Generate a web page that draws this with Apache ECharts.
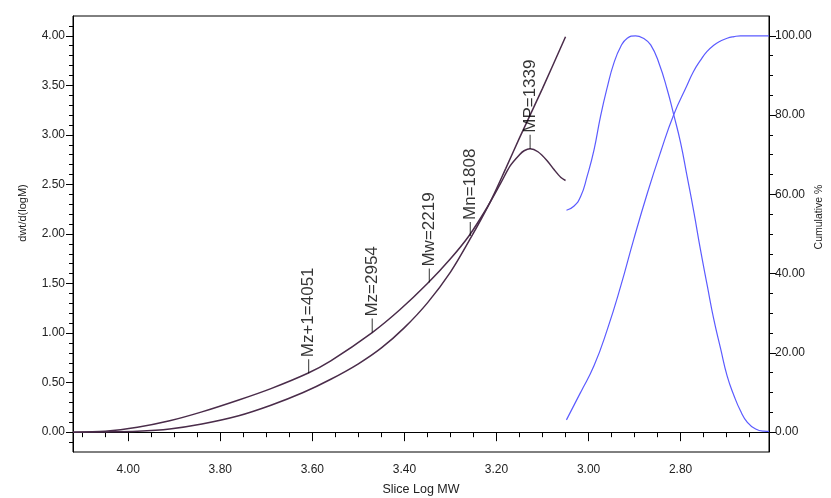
<!DOCTYPE html>
<html>
<head>
<meta charset="utf-8">
<script src="https://cdn.jsdelivr.net/npm/echarts@6/dist/echarts.min.js"></script>
<style>
  html, body { margin: 0; padding: 0; background: #fff; }
  #main { width: 831px; height: 498px; }
</style>
</head>
<body>
<div id="main"></div>
<script>
// distribution curve dwt/d(logM)
var distX = [4.12, 4.05, 3.98, 3.91, 3.84, 3.76, 3.69, 3.61, 3.56, 3.47, 3.41, 3.35, 3.30, 3.26, 3.22, 3.19, 3.17, 3.15, 3.14, 3.127, 3.11, 3.09, 3.075, 3.06, 3.05]
var distY = [0.00, 0.01, 0.05, 0.115, 0.205, 0.325, 0.44, 0.595, 0.72, 1.005, 1.235, 1.50, 1.75, 1.98, 2.27, 2.52, 2.69, 2.80, 2.84, 2.86, 2.83, 2.74, 2.65, 2.57, 2.54]
// second dark curve
var calX = [4.12, 4.05, 3.98, 3.91, 3.84, 3.76, 3.69, 3.62, 3.56, 3.50, 3.45, 3.40, 3.35, 3.30, 3.256, 3.213, 3.18, 3.15, 3.10, 3.05]
var calY = [0.00, 0.003, 0.01, 0.033, 0.083, 0.166, 0.272, 0.40, 0.534, 0.69, 0.85, 1.055, 1.305, 1.615, 1.96, 2.33, 2.66, 2.97, 3.47, 3.99]
// blue curves, right axis (%)
var bellX = [3.048, 3.032, 3.017, 3.003, 2.988, 2.974, 2.959, 2.945, 2.930, 2.916, 2.898, 2.880, 2.865, 2.847, 2.829, 2.815, 2.800, 2.786, 2.771, 2.757, 2.742, 2.728, 2.713, 2.699, 2.684, 2.670, 2.655, 2.637, 2.619, 2.608]
var bellY = [56.0, 57.0, 59.5, 64.6, 71.3, 79.7, 87.2, 93.1, 97.3, 99.4, 100, 99.3, 97.7, 93.1, 86.4, 80.1, 73.0, 64.6, 55.4, 46.1, 36.9, 28.5, 21.0, 14.2, 9.2, 5.4, 2.5, 0.8, 0.25, 0.2]
var cumX = [3.048, 3.017, 2.988, 2.959, 2.930, 2.902, 2.872, 2.844, 2.815, 2.786, 2.772, 2.757, 2.743, 2.728, 2.713, 2.699, 2.684, 2.670, 2.640, 2.608]
var cumY = [3.1, 10.1, 16.8, 26.0, 36.9, 48.6, 60.4, 70.5, 80.1, 87.5, 91.0, 93.8, 96.0, 97.6, 98.7, 99.4, 99.8, 100, 100, 100]
// molecular weight markers
var markerNames = ['Mz+1=4051', 'Mz=2954', 'Mw=2219', 'Mn=1808', 'MP=1339']
var markerX = [3.608, 3.470, 3.346, 3.257, 3.127]
var markerY = [0.595, 1.005, 1.51, 1.98, 2.86]
// tick labels
var xTicks = [2.8, 3.0, 3.2, 3.4, 3.6, 3.8, 4.0]
var leftTicks = [0, 0.5, 1.0, 1.5, 2.0, 2.5, 3.0, 3.5, 4.0]
var rightTicks = [0, 20, 40, 60, 80, 100]

var sans = "'Liberation Sans', Arial, sans-serif"

function pairs (xs, ys) {
  return xs.map(function (x, i) { return [x, ys[i]] })
}

var chart = echarts.init(document.getElementById('main'))

var axisCommon = {
  type: 'value',
  axisLine: { show: true, lineStyle: { color: '#000', width: 1 } },
  splitLine: { show: false },
  minorSplitLine: { show: false },
  nameMoveOverlap: false
}

var labelCommon = {
  fontSize: 12,
  color: '#222',
  fontFamily: sans,
  formatter: function (v) { return v.toFixed(2) }
}

var option = {
  animation: false,
  backgroundColor: '#fff',
  grid: {
    left: 73,
    right: 62,
    top: 16,
    bottom: 46,
    show: true,
    borderColor: '#000',
    borderWidth: 1,
    containLabel: false,
    outerBoundsMode: 'none'
  },
  xAxis: Object.assign({}, axisCommon, {
    min: 2.608,
    max: 4.12,
    inverse: true,
    splitNumber: 7,
    position: 'bottom',
    axisTick: { show: true, length: 9, customValues: xTicks, lineStyle: { color: '#000' } },
    minorTick: { show: true, splitNumber: 4, length: 5, lineStyle: { color: '#000' } },
    axisLabel: Object.assign({}, labelCommon, { customValues: xTicks, margin: 12 }),
    name: 'Slice Log MW',
    nameLocation: 'middle',
    nameGap: 31,
    nameTextStyle: { fontSize: 12.5, color: '#222', fontFamily: sans }
  }),
  yAxis: [
    Object.assign({}, axisCommon, {
      min: -0.2,
      max: 4.2,
      splitNumber: 9,
      position: 'left',
      axisTick: { show: true, length: 7, customValues: leftTicks, lineStyle: { color: '#000' } },
      minorTick: { show: true, splitNumber: 5, length: 4, lineStyle: { color: '#000' } },
      axisLabel: Object.assign({}, labelCommon, { customValues: leftTicks, margin: 8 }),
      name: 'dwt/d(logM)',
      nameLocation: 'middle',
      nameRotate: 90,
      nameGap: 45,
      nameTextStyle: { fontSize: 11, color: '#222', fontFamily: sans, padding: [0, 0, 0, 42] }
    }),
    Object.assign({}, axisCommon, {
      min: -5,
      max: 105,
      splitNumber: 5,
      position: 'right',
      axisTick: { show: true, length: 7, customValues: rightTicks, lineStyle: { color: '#000' } },
      minorTick: { show: true, splitNumber: 4, length: 4, lineStyle: { color: '#000' } },
      axisLabel: Object.assign({}, labelCommon, { customValues: rightTicks, margin: 6 }),
      name: 'Cumulative %',
      nameLocation: 'middle',
      nameRotate: 90,
      nameGap: 45,
      nameTextStyle: { fontSize: 10.5, color: '#222', fontFamily: sans, padding: [0, 0, 0, 34] }
    })
  ],
  series: [
    {
      name: 'dwt/d(logM)',
      type: 'line',
      data: pairs(distX, distY),
      smooth: 0.3,
      showSymbol: false,
      lineStyle: { color: '#4a2c4a', width: 1.5 },
      itemStyle: { color: '#4a2c4a' }
    },
    {
      name: 'calibration',
      type: 'line',
      data: pairs(calX, calY),
      smooth: 0.3,
      showSymbol: false,
      lineStyle: { color: '#4a2c4a', width: 1.5 },
      itemStyle: { color: '#4a2c4a' }
    },
    {
      name: 'slice',
      type: 'line',
      yAxisIndex: 1,
      data: pairs(bellX, bellY),
      smooth: 0.5,
      showSymbol: false,
      lineStyle: { color: '#5b5bff', width: 1.2 },
      itemStyle: { color: '#5b5bff' }
    },
    {
      name: 'Cumulative %',
      type: 'line',
      yAxisIndex: 1,
      data: pairs(cumX, cumY),
      smooth: 0.5,
      showSymbol: false,
      lineStyle: { color: '#5b5bff', width: 1.2 },
      itemStyle: { color: '#5b5bff' }
    },
    {
      name: 'markers',
      type: 'scatter',
      data: pairs(markerX, markerY),
      symbol: 'rect',
      symbolSize: [1, 14],
      symbolOffset: [0, -7],
      itemStyle: { color: '#000' },
      silent: true,
      z: 5,
      label: {
        show: true,
        position: 'top',
        distance: 2,
        rotate: 90,
        align: 'left',
        verticalAlign: 'middle',
        fontSize: 17,
        color: '#000',
        fontFamily: sans,
        formatter: function (p) { return markerNames[p.dataIndex] }
      }
    }
  ]
}

chart.setOption(option)
</script>
</body>
</html>
